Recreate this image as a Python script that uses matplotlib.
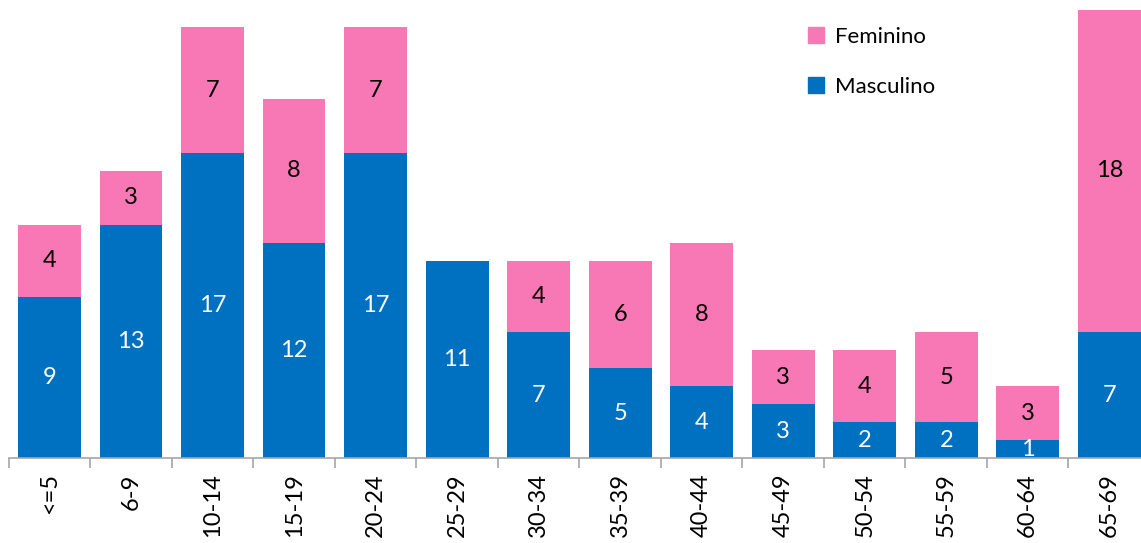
import numpy as np
import matplotlib
matplotlib.use("Agg")
import matplotlib.pyplot as plt
from matplotlib.patches import Patch

# --- data ---
age_groups = ["<=5", "6-9", "10-14", "15-19", "20-24", "25-29", "30-34",
              "35-39", "40-44", "45-49", "50-54", "55-59", "60-64", "65-69"]
masculino = [9, 13, 17, 12, 17, 11, 7, 5, 4, 3, 2, 2, 1, 7]
feminino = [4, 3, 7, 8, 7, 0, 4, 6, 8, 3, 4, 5, 3, 18]

blue = "#0070C0"
pink = "#F778B4"
axis_gray = "#A6A6A6"

plt.rcParams['font.family'] = ['Lato', 'DejaVu Sans']

fig = plt.figure(figsize=(11.41, 5.43), dpi=100)
ax = fig.add_axes([0.0077, 0.1565, 1.0002, 0.8435])

x = np.arange(len(age_groups))
bw = 0.77
ax.bar(x, masculino, width=bw, color=blue, label="Masculino")
ax.bar(x, feminino, width=bw, bottom=masculino, color=pink, label="Feminino")

# value labels centred in each segment
for xi, m, f in zip(x, masculino, feminino):
    if m > 0:
        ax.text(xi, m / 2, str(m), ha="center", va="center", color="white", fontsize=17)
    if f > 0:
        ax.text(xi, m + f / 2, str(f), ha="center", va="center", color="black", fontsize=17)

ax.set_xlim(-0.5, len(age_groups) - 0.5)
ax.set_ylim(0, 25.53)

for s in ["top", "right", "left"]:
    ax.spines[s].set_visible(False)
ax.spines["bottom"].set_color(axis_gray)
ax.spines["bottom"].set_linewidth(1.2)
ax.set_yticks([])

ax.set_xticks(x)
ax.set_xticklabels(age_groups, rotation=90, fontsize=17)
ax.tick_params(axis="x", which="major", length=0, pad=11)
ax.set_xticks(np.arange(-0.5, len(age_groups), 1), minor=True)
ax.tick_params(axis="x", which="minor", length=7, color=axis_gray, width=1.2)

handles = [Patch(color=pink, label="Feminino"), Patch(color=blue, label="Masculino")]
fig.legend(handles=handles, loc="upper left", bbox_to_anchor=(0.691, 0.988),
           frameon=False, fontsize=16, handlelength=0.7, handleheight=0.7,
           handletextpad=0.5, labelspacing=1.35)

fig.savefig("out.png", dpi=100)
